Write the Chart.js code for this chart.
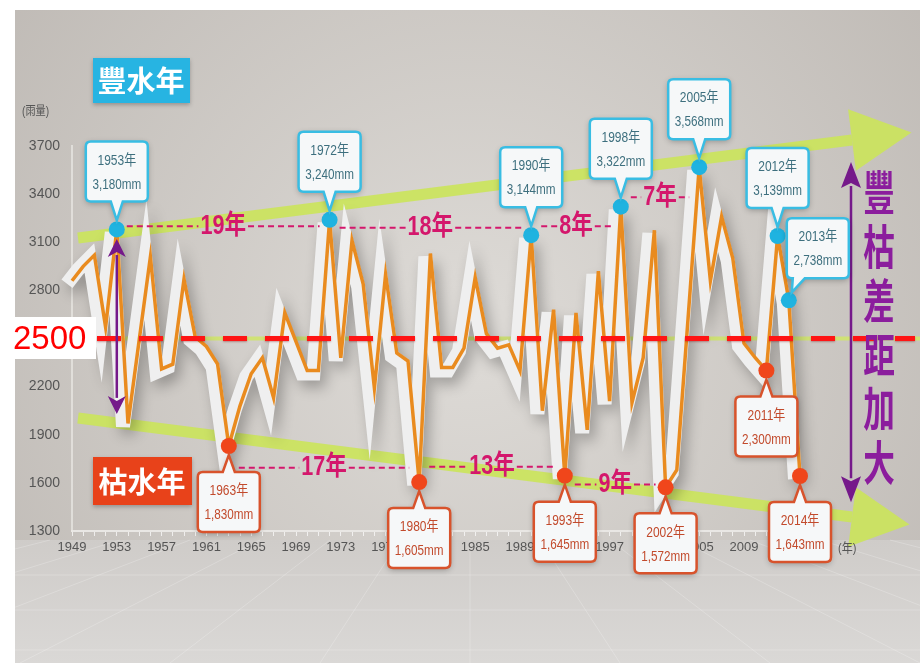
<!DOCTYPE html>
<html>
<head>
<meta charset="utf-8">
<script src="https://cdn.jsdelivr.net/npm/chart.js@4.4.1/dist/chart.umd.min.js"></script>
<style>
  html, body { margin: 0; padding: 0; background: #fff; }
  #wrap { width: 924px; height: 663px; }
</style>
</head>
<body>
<div id="wrap"><canvas id="myChart" width="924" height="663"></canvas></div>
<script>
// 年份 / 年雨量 (mm)
const years = [1949,1950,1951,1952,1953,1954,1955,1956,1957,1958,1959,1960,1961,1962,1963,1964,
  1965,1966,1967,1968,1969,1970,1971,1972,1973,1974,1975,1976,1977,1978,1979,1980,1981,1982,
  1983,1984,1985,1986,1987,1988,1989,1990,1991,1992,1993,1994,1995,1996,1997,1998,1999,2000,
  2001,2002,2003,2004,2005,2006,2007,2008,2009,2010,2011,2012,2013,2014];
const rainfall = [2860,2950,3020,2570,3180,1970,2490,3010,2310,2340,2870,2510,2450,2340,1830,2080,
  2280,2380,2130,2660,2480,2300,2300,3240,2380,3110,2840,2190,2900,2410,2360,1605,3030,2320,
  2320,2440,2880,2530,2440,2460,2300,3144,2050,2680,1645,2660,1930,2920,2110,3322,2100,2380,
  3175,1572,1680,2620,3568,2860,3260,3000,2470,2380,2300,3139,2738,1643];
const yTicks = [1300,1600,1900,2200,2500,2800,3100,3400,3700];
const wetYears = [1953,1972,1990,1998,2005,2012,2013];
const dryYears = [1963,1980,1993,2002,2011,2014];
const gapFrom = [1953,1972,1990,1998,1963,1980,1993];
const gapTo   = [1972,1990,1998,2005,1980,1993,2002];
const gapText = ['19年','18年','8年','7年','17年','13年','9年'];
const gapLevel = [3200,3190,3200,3380,1695,1700,1590];
const baseline = 2500;

const CJK = "'Noto Sans CJK TC'";
const SANS = "'Liberation Sans'," + CJK;

function fmt(n) { return String(n).replace(/\B(?=(\d{3})+(?!\d))/g, ','); }

// narrow text by squeezing horizontally
function narrowText(ctx, text, x, y, sx) {
  ctx.save();
  ctx.translate(x, y);
  ctx.scale(sx, 1);
  ctx.fillText(text, 0, 0);
  ctx.restore();
}

function boxPath(ctx, x, y, w, h, r, p) {
  ctx.beginPath();
  ctx.moveTo(x + r, y);
  if (p && p.edge === 'top') { ctx.lineTo(p.a, y); ctx.lineTo(p.tx, p.ty); ctx.lineTo(p.b, y); }
  ctx.lineTo(x + w - r, y);
  ctx.quadraticCurveTo(x + w, y, x + w, y + r);
  ctx.lineTo(x + w, y + h - r);
  ctx.quadraticCurveTo(x + w, y + h, x + w - r, y + h);
  if (p && p.edge === 'bottom') { ctx.lineTo(p.b, y + h); ctx.lineTo(p.tx, p.ty); ctx.lineTo(p.a, y + h); }
  ctx.lineTo(x + r, y + h);
  ctx.quadraticCurveTo(x, y + h, x, y + h - r);
  ctx.lineTo(x, y + r);
  ctx.quadraticCurveTo(x, y, x + r, y);
  ctx.closePath();
}

function callout(ctx, px, py, year, value, wet, side) {
  const w = 62, h = 60;
  let bx, by, p;
  if (side === 'up') {
    bx = px - w / 2; by = py - 28 - h;
    p = { edge: 'bottom', a: px - 6, b: px + 6, tx: px, ty: py - 9 };
  } else if (side === 'right') {
    bx = px - 2; by = py - 82;
    p = { edge: 'bottom', a: bx + 6, b: bx + 18, tx: px + 3, ty: py - 8 };
  } else {
    bx = px - w / 2; by = py + 26;
    p = { edge: 'top', a: px - 6, b: px + 6, tx: px, ty: py + 9 };
  }
  ctx.save();
  boxPath(ctx, bx, by, w, h, 5, p);
  ctx.shadowColor = 'rgba(0,0,0,0.3)';
  ctx.shadowBlur = 6;
  ctx.shadowOffsetY = 2;
  ctx.fillStyle = '#f6f8f9';
  ctx.fill();
  ctx.shadowColor = 'transparent';
  ctx.lineWidth = 2.5;
  ctx.strokeStyle = wet ? '#39bde3' : '#d8532c';
  ctx.stroke();
  ctx.fillStyle = wet ? '#3d6f7e' : '#c24a2c';
  ctx.font = '15px ' + SANS;
  ctx.textAlign = 'center';
  ctx.textBaseline = 'middle';
  narrowText(ctx, year + '年', bx + w / 2, by + 19, 0.8);
  narrowText(ctx, fmt(value) + 'mm', bx + w / 2, by + 43, 0.78);
  ctx.restore();
}

function arrowShaft(ctx, x1, y1, x2, y2, shaftW, headL, headW, color) {
  const dx = x2 - x1, dy = y2 - y1, len = Math.hypot(dx, dy);
  const ux = dx / len, uy = dy / len, nx = -uy, ny = ux;
  ctx.save();
  ctx.strokeStyle = color;
  ctx.fillStyle = color;
  ctx.lineWidth = shaftW;
  ctx.beginPath();
  ctx.moveTo(x1, y1);
  ctx.lineTo(x2, y2);
  ctx.stroke();
  ctx.beginPath();
  ctx.moveTo(x2 + nx * headW, y2 + ny * headW);
  ctx.lineTo(x2 + ux * headL, y2 + uy * headL);
  ctx.lineTo(x2 - nx * headW, y2 - ny * headW);
  ctx.closePath();
  ctx.fill();
  ctx.restore();
}

function doubleArrow(ctx, x, yTop, yBot, head, half, color, lw) {
  ctx.save();
  ctx.strokeStyle = color;
  ctx.fillStyle = color;
  ctx.lineWidth = lw;
  ctx.beginPath();
  ctx.moveTo(x, yTop + head - 2);
  ctx.lineTo(x, yBot - head + 2);
  ctx.stroke();
  ctx.beginPath();
  ctx.moveTo(x, yTop); ctx.lineTo(x - half, yTop + head); ctx.lineTo(x, yTop + head - 5); ctx.lineTo(x + half, yTop + head);
  ctx.closePath(); ctx.fill();
  ctx.beginPath();
  ctx.moveTo(x, yBot); ctx.lineTo(x - half, yBot - head); ctx.lineTo(x, yBot - head + 5); ctx.lineTo(x + half, yBot - head);
  ctx.closePath(); ctx.fill();
  ctx.restore();
}

const backdrop = {
  id: 'backdrop',
  beforeDraw(chart) {
    const ctx = chart.ctx;
    ctx.save();
    ctx.fillStyle = '#ffffff';
    ctx.fillRect(0, 0, chart.width, chart.height);
    const g = ctx.createRadialGradient(470, 330, 40, 470, 330, 620);
    g.addColorStop(0, '#dcd9d5');
    g.addColorStop(1, '#bdb8b3');
    ctx.fillStyle = g;
    ctx.fillRect(15, 10, 905, 653);
    // floor
    const fg = ctx.createLinearGradient(0, 540, 0, 663);
    fg.addColorStop(0, '#cfccc9');
    fg.addColorStop(1, '#dad8d6');
    ctx.fillStyle = fg;
    ctx.fillRect(15, 540, 905, 123);
    ctx.strokeStyle = 'rgba(255,255,255,0.22)';
    ctx.lineWidth = 1;
    [575, 610, 650].forEach(y => { ctx.beginPath(); ctx.moveTo(15, y); ctx.lineTo(920, y); ctx.stroke(); });
    for (let i = -6; i <= 6; i++) {
      ctx.beginPath();
      ctx.moveTo(470 + i * 70, 540);
      ctx.lineTo(470 + i * 150, 663);
      ctx.stroke();
    }
    ctx.restore();
  },
  beforeDatasetsDraw(chart) {
    const ctx = chart.ctx, ys = chart.scales.y, area = chart.chartArea;
    // 2500 green guide
    ctx.save();
    ctx.strokeStyle = '#d0e276';
    ctx.lineWidth = 4;
    ctx.beginPath();
    ctx.moveTo(15, ys.getPixelForValue(baseline));
    ctx.lineTo(920, ys.getPixelForValue(baseline));
    ctx.stroke();
    ctx.restore();
    // trend arrows
    const green = 'rgba(203,228,92,0.92)';
    arrowShaft(ctx, area.left + 6, ys.getPixelForValue(3126), area.right + 52, ys.getPixelForValue(3737), 11, 60, 31, green);
    arrowShaft(ctx, area.left + 6, ys.getPixelForValue(2004), area.right + 52, ys.getPixelForValue(1387), 11, 58, 30, green);
    // white ribbon behind the line
    const pts = chart.getDatasetMeta(0).data;
    ctx.save();
    ctx.shadowColor = 'rgba(0,0,0,0.28)';
    ctx.shadowBlur = 14;
    ctx.shadowOffsetX = 5;
    ctx.shadowOffsetY = 7;
    ctx.strokeStyle = '#efefef';
    ctx.lineWidth = 14;
    ctx.lineJoin = 'miter';
    ctx.beginPath();
    pts.forEach((pt, i) => { if (i === 0) ctx.moveTo(pt.x - 5, pt.y + 3); else ctx.lineTo(pt.x - 5, pt.y + 3); });
    ctx.stroke();
    ctx.restore();
  },
  afterDatasetsDraw(chart) {
    const ctx = chart.ctx, xs = chart.scales.x, ys = chart.scales.y, area = chart.chartArea;
    const px = yr => xs.getPixelForValue(years.indexOf(yr));
    const py = yr => ys.getPixelForValue(rainfall[years.indexOf(yr)]);

    // red 2500 dashed line
    ctx.save();
    ctx.strokeStyle = '#ff1414';
    ctx.lineWidth = 5;
    ctx.setLineDash([24, 18]);
    ctx.shadowColor = 'rgba(120,0,0,0.35)';
    ctx.shadowBlur = 2;
    ctx.shadowOffsetY = 1;
    ctx.beginPath();
    ctx.moveTo(97, ys.getPixelForValue(baseline));
    ctx.lineTo(915, ys.getPixelForValue(baseline));
    ctx.stroke();
    ctx.restore();

    // interval lines
    gapText.forEach((t, i) => {
      const x1 = px(gapFrom[i]) + 10, x2 = px(gapTo[i]) - 10, y = ys.getPixelForValue(gapLevel[i]);
      ctx.save();
      ctx.font = 'bold 27px ' + SANS;
      const tw = ctx.measureText(t).width * 0.8;
      const mid = (x1 + x2) / 2;
      ctx.strokeStyle = '#d4176c';
      ctx.lineWidth = 2;
      ctx.setLineDash([6, 4]);
      ctx.beginPath();
      ctx.moveTo(x1, y); ctx.lineTo(mid - tw / 2 - 2, y);
      ctx.moveTo(mid + tw / 2 + 2, y); ctx.lineTo(x2, y);
      ctx.stroke();
      ctx.fillStyle = '#d4176c';
      ctx.textAlign = 'center';
      ctx.textBaseline = 'middle';
      narrowText(ctx, t, mid, y, 0.8);
      ctx.restore();
    });

    // purple arrows
    doubleArrow(ctx, px(1953), ys.getPixelForValue(3120), ys.getPixelForValue(2030), 18, 9, '#75198a', 2.5);
    doubleArrow(ctx, area.right + 51, ys.getPixelForValue(3600), ys.getPixelForValue(1480), 26, 10, '#75198a', 2.5);

    // vertical caption
    ctx.save();
    ctx.fillStyle = '#8b1d9d';
    ctx.font = 'bold 44px ' + CJK;
    ctx.textAlign = 'center';
    ctx.textBaseline = 'middle';
    const cap = '豐枯差距加大';
    for (let i = 0; i < cap.length; i++) {
      ctx.save();
      ctx.translate(879, 192 + i * 54);
      ctx.scale(0.72, 1.05);
      ctx.fillText(cap[i], 0, 0);
      ctx.restore();
    }
    ctx.restore();

    // unit labels
    ctx.save();
    ctx.fillStyle = '#555';
    ctx.font = '12px ' + SANS;
    ctx.textBaseline = 'middle';
    narrowText(ctx, '(雨量)', 22, 112, 0.85);
    ctx.font = '13px ' + SANS;
    narrowText(ctx, '(年)', area.right + 38, area.bottom + 17, 0.85);
    ctx.restore();

    // callouts
    wetYears.forEach(yr => callout(ctx, px(yr), py(yr), yr, rainfall[years.indexOf(yr)], true, yr === 2013 ? 'right' : 'up'));
    dryYears.forEach(yr => callout(ctx, px(yr), py(yr), yr, rainfall[years.indexOf(yr)], false, 'down'));

    // tags
    ctx.save();
    ctx.shadowColor = 'rgba(0,0,0,0.25)';
    ctx.shadowBlur = 4;
    ctx.shadowOffsetY = 2;
    ctx.fillStyle = '#27b4e2';
    ctx.fillRect(93, 58, 97, 45);
    ctx.fillStyle = '#e8421a';
    ctx.fillRect(93, 457, 99, 48);
    ctx.shadowColor = 'transparent';
    ctx.fillStyle = '#ffffff';
    ctx.font = 'bold 29px ' + CJK;
    ctx.textAlign = 'center';
    ctx.textBaseline = 'middle';
    ctx.fillText('豐水年', 141, 81);
    ctx.fillText('枯水年', 142, 482);
    ctx.restore();

    // 2500 label
    ctx.save();
    ctx.fillStyle = '#ffffff';
    ctx.fillRect(0, 317, 96, 42);
    ctx.fillStyle = '#ff0000';
    ctx.font = "33px 'Liberation Sans'";
    ctx.textBaseline = 'middle';
    ctx.fillText(String(baseline), 13, ys.getPixelForValue(baseline) + 1);
    ctx.restore();
  }
};

const ctx = document.getElementById('myChart').getContext('2d');
const pointR = years.map(y => (wetYears.includes(y) || dryYears.includes(y)) ? 8 : 0);
const pointC = years.map(y => wetYears.includes(y) ? '#1fb3e0' : '#f0461b');

const myChart = new Chart(ctx, {
  type: 'line',
  data: {
    labels: years,
    datasets: [{
      label: '年雨量',
      data: rainfall,
      borderColor: '#e98b1f',
      borderWidth: 3.5,
      tension: 0,
      fill: false,
      pointRadius: pointR,
      pointBackgroundColor: pointC,
      pointBorderWidth: 0,
      pointHoverRadius: pointR
    }]
  },
  options: {
    responsive: false,
    animation: false,
    devicePixelRatio: 1,
    layout: { padding: { left: 15, right: 124, top: 146, bottom: 102 } },
    plugins: { legend: { display: false }, tooltip: { enabled: false } },
    scales: {
      x: {
        afterFit: s => { s.height = 30; },
        grid: { drawOnChartArea: false, drawTicks: true, tickLength: 5, color: 'rgba(255,255,255,0.7)' },
        border: { display: true, color: '#e9e7e4', width: 2 },
        ticks: {
          autoSkip: false, maxRotation: 0, color: '#555', padding: 4,
          font: { family: "'Liberation Sans'", size: 13 },
          callback: (v, i) => (years[i] - 1949) % 4 === 0 ? String(years[i]) : ''
        }
      },
      y: {
        min: 1300, max: 3700,
        afterFit: s => { s.width = 57; },
        afterBuildTicks: s => { s.ticks = yTicks.map(v => ({ value: v })); },
        grid: { display: false },
        border: { display: true, color: 'rgba(235,233,230,0.7)', width: 2 },
        ticks: {
          color: '#555', padding: 4,
          font: { family: "'Liberation Sans'", size: 14 },
          callback: v => String(v)
        }
      }
    }
  },
  plugins: [backdrop]
});
</script>
</body>
</html>
